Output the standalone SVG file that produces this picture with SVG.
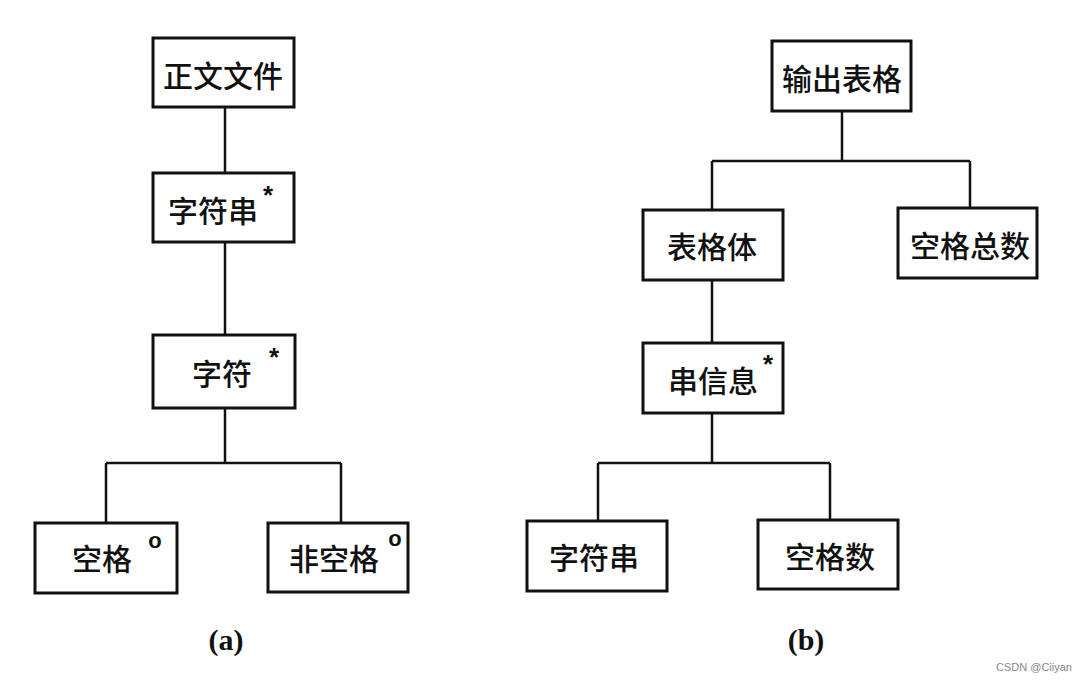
<svg xmlns="http://www.w3.org/2000/svg" width="1084" height="684" viewBox="0 0 1084 684">
<style>
.box{fill:#fff;stroke:#111;stroke-width:3}
.lbl{font-family:"Noto Sans CJK SC","Noto Sans",sans-serif;font-size:30px;font-weight:500;fill:#111;text-anchor:middle;dominant-baseline:central}
.mark{font-family:"Liberation Sans",sans-serif;font-size:26px;font-weight:bold;fill:#111;text-anchor:middle}
.circ{font-family:"Liberation Sans",sans-serif;font-size:22px;font-weight:bold;fill:#111;text-anchor:middle}
.cap{font-family:"Liberation Serif",serif;font-size:30px;font-weight:bold;fill:#111;text-anchor:middle}
.wm{font-family:"Liberation Sans",sans-serif;font-size:11px;fill:#888}
.conn{fill:none;stroke:#111;stroke-width:2.5}
</style>
<rect width="1084" height="684" fill="#fff"/>
<g id="connectors">
<path class="conn" d="M225 107V173M225 242V335M225 408V463M106 463H341M106 463V523M341 463V523"/>
<path class="conn" d="M842 111V161M712 161H970M712 161V210M970 161V208M712 280V343M712 413V463M598 463H830M598 463V521M830 463V520"/>
</g>
<g id="n-zhengwen"><rect class="box" x="153" y="38" width="141" height="69"/><text class="lbl" x="223" y="74">正文文件</text></g>
<g id="n-zifuchuan-a"><rect class="box" x="153" y="173" width="141" height="69"/><text class="lbl" x="213" y="209">字符串</text><text class="mark" x="268" y="204">*</text></g>
<g id="n-zifu"><rect class="box" x="153" y="335" width="142" height="73"/><text class="lbl" x="222" y="372">字符</text><text class="mark" x="274" y="366">*</text></g>
<g id="n-kongge"><rect class="box" x="35" y="523" width="142" height="70"/><text class="lbl" x="102" y="557">空格</text><text class="circ" x="155" y="548">o</text></g>
<g id="n-feikongge"><rect class="box" x="268" y="523" width="140" height="69"/><text class="lbl" x="334" y="557">非空格</text><text class="circ" x="395" y="546">o</text></g>
<g id="n-shuchu"><rect class="box" x="772" y="41" width="139" height="70"/><text class="lbl" x="842" y="77">输出表格</text></g>
<g id="n-biaogeti"><rect class="box" x="643" y="210" width="140" height="70"/><text class="lbl" x="712" y="245">表格体</text></g>
<g id="n-konggezongshu"><rect class="box" x="898" y="208" width="139" height="70"/><text class="lbl" x="970" y="244">空格总数</text></g>
<g id="n-chuanxinxi"><rect class="box" x="643" y="343" width="140" height="70"/><text class="lbl" x="713" y="379">串信息</text><text class="mark" x="768" y="373">*</text></g>
<g id="n-zifuchuan-b"><rect class="box" x="527" y="521" width="140" height="70"/><text class="lbl" x="594" y="556">字符串</text></g>
<g id="n-konggeshu"><rect class="box" x="758" y="520" width="140" height="69"/><text class="lbl" x="830" y="555">空格数</text></g>
<text class="cap" x="226" y="650">(a)</text>
<text class="cap" x="806" y="650">(b)</text>
<text class="wm" x="996" y="671">CSDN @Ciiyan</text>
</svg>
